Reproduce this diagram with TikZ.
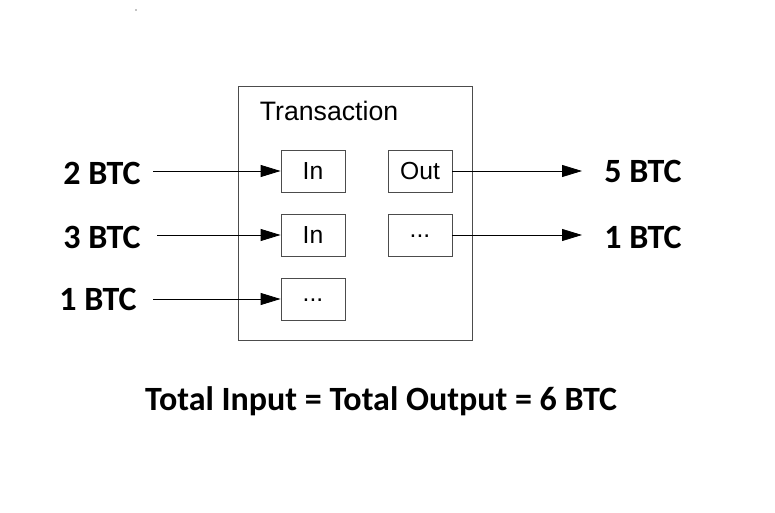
\documentclass[tikz,border=0pt]{standalone}
\usepackage{fontspec}
\setmainfont{Liberation Sans}
\newfontfamily\carfont{Carlito}
\usetikzlibrary{arrows.meta}
\begin{document}
\begin{tikzpicture}[x=0.75pt,y=-0.75pt,
  box/.style={draw=black!70,line width=0.6pt,minimum width=48pt,minimum height=31.5pt,inner sep=0pt,font=\fontsize{18.5}{20}\selectfont},
  lab/.style={font=\carfont\bfseries\fontsize{25.5}{28}\selectfont},
  arr/.style={line width=0.6pt,-{Triangle[length=15pt,width=9pt]}}]
\useasboundingbox (0,0) rectangle (775,513);
\fill (136,10) circle (0.5pt);
\node[draw=black!70,line width=0.6pt,minimum width=176pt,minimum height=191pt,inner sep=0pt] (tx) at (355.5,213.5) {};
\node[font=\fontsize{20}{22}\selectfont] (tl) at (329,111) {Transaction};
\node[box] (i1) at (313,171) {In};
\node[box] (o1) at (420,171) {Out};
\node[box] (i2) at (313,235) {In};
\node[box] (o2) at (420,235) {\raisebox{-4pt}{...}};
\node[box] (i3) at (313,299) {\raisebox{-4pt}{...}};
\node[lab] (a) at (102,173) {2 BTC};
\node[lab] (b) at (102,237) {3 BTC};
\node[lab] (c) at (98,299) {1 BTC};
\node[lab] (d) at (643,171) {5 BTC};
\node[lab] (e) at (643,237) {1 BTC};
\coordinate (as) at (153,171);
\coordinate (bs) at (157,235);
\coordinate (cs) at (153,299);
\coordinate (de) at (582,171);
\coordinate (ee) at (582,235);
\draw[arr] (as) -- (i1.west);
\draw[arr] (bs) -- (i2.west);
\draw[arr] (cs) -- (i3.west);
\draw[arr] (o1.east) -- (de);
\draw[arr] (o2.east) -- (ee);
\node[lab] (t) at (381,401) {Total Input = Total Output = 6 BTC};
\end{tikzpicture}
\end{document}
